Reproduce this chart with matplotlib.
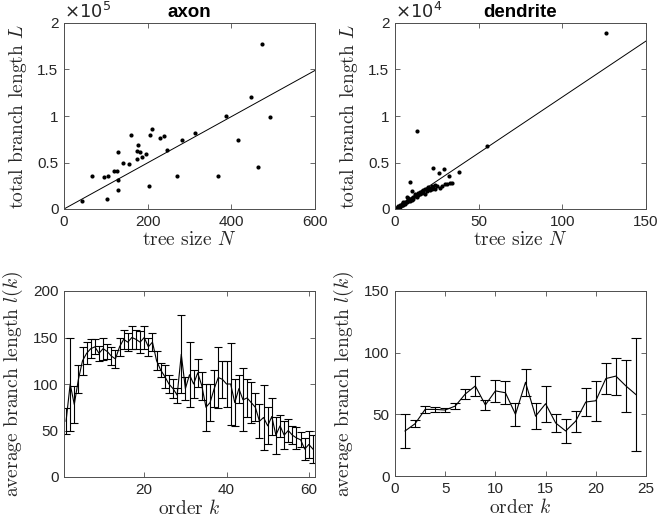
import matplotlib
matplotlib.use("Agg")
import matplotlib.pyplot as plt
from matplotlib.ticker import FuncFormatter
import numpy as np

plt.rcParams['font.family'] = ['Liberation Sans', 'DejaVu Sans']
plt.rcParams['mathtext.fontset'] = 'cm'

# ---------------- data ----------------
axon_N = [44, 66, 96, 102, 104, 120, 126, 128, 128, 130, 140, 155, 160, 175, 178,
          175, 182, 187, 196, 204, 206, 210, 229, 238, 247, 269, 283, 312, 369, 387,
          417, 446, 463, 474, 492]
axon_L = [8300, 35200, 34800, 10400, 35900, 40900, 41300, 31200, 20100, 61400, 49900,
          48100, 79700, 53500, 69300, 62100, 61400, 56000, 59200, 24400, 79400, 85500,
          76800, 79000, 63600, 35200, 74000, 81900, 35900, 99500, 74000, 119900, 44900,
          177400, 99100]
axon_slope = 248.3

dend_N = [1, 1, 2, 2, 2, 3, 3, 3, 4, 4, 4, 5, 5, 5, 6, 6, 6, 7, 7, 7, 8, 8, 8, 9, 9, 9,
          10, 10, 10, 11, 11, 12, 12, 13, 13, 14, 14, 15, 15, 16, 16, 17, 17, 18, 18, 19,
          20, 20, 21, 21, 22, 22, 23, 23, 24, 24, 25, 26, 27, 28, 29, 30, 31, 32, 33, 34,
          38, 55, 126]
dend_L = [150, 90, 260, 180, 320, 300, 410, 220, 380, 520, 450, 600, 430, 700, 620, 780,
          540, 900, 700, 1300, 850, 1000, 1200, 1050, 2870, 900, 1200, 1000, 1900, 1300,
          1100, 1400, 1600, 8400, 1300, 1500, 1700, 1600, 1800, 1900, 1700, 2000, 1800,
          1600, 2100, 1900, 2400, 2100, 2000, 2300, 2200, 2500, 4450, 2300, 2100, 2600,
          2500, 3900, 2300, 2500, 4250, 2700, 2650, 3500, 2800, 2750, 4000, 6790, 18920]
dend_slope = 120.4

axon_k = list(range(1, 62))
axon_mean = [60, 100, 78, 105, 125, 133, 138, 140, 133, 138, 135, 130, 127, 140, 148,
             145, 150, 148, 145, 150, 140, 145, 125, 115, 108, 100, 95, 88, 132, 95,
             110, 100, 112, 98, 75, 80, 95, 107, 105, 100, 100, 80, 95, 83, 85, 80, 75,
             60, 64, 55, 65, 45, 55, 45, 50, 45, 42, 40, 30, 35, 30]
axon_err = [14, 50, 20, 15, 15, 12, 10, 8, 8, 12, 8, 10, 10, 10, 10, 10, 12, 10, 12, 12,
            10, 10, 10, 8, 12, 10, 10, 8, 42, 12, 35, 15, 15, 15, 25, 20, 20, 33, 20, 25,
            44, 25, 15, 34, 20, 22, 15, 18, 35, 20, 20, 20, 12, 15, 12, 10, 12, 8, 12,
            15, 15]

dend_k = list(range(1, 25))
dend_mean = [36.5, 42.4, 54, 54, 53.5, 56.7, 66.5, 73, 57.6, 69, 67.5, 50, 76, 48.5,
             58.6, 43, 36.5, 44.5, 60, 61, 79, 81, 73, 66]
dend_err = [13.5, 3, 3, 2, 2, 2.5, 4, 8, 4, 9, 9.5, 9.5, 11, 10.5, 14.5, 7, 10, 8.5,
            11, 16, 12.5, 15, 21, 46]

# ---------------- figure ----------------
fig = plt.figure(figsize=(6.6, 5.25), dpi=100)
W, H = 660, 525

def add_axes(l, t, r, b):
    return fig.add_axes([l / W, (H - b) / H, (r - l) / W, (b - t) / H])

ax1 = add_axes(64, 23, 315, 209)
ax2 = add_axes(395, 23, 646, 209)
ax3 = add_axes(64, 291, 315, 477)
ax4 = add_axes(395, 291, 646, 476)

axcol = '#4d4d4d'
txtcol = '#262626'
lab_font = dict(family='cmr10', size=14, color=txtcol)

def style(ax):
    for s in ax.spines.values():
        s.set_color(axcol)
        s.set_linewidth(0.7)
    ax.tick_params(direction='in', length=3.5, width=0.6, colors=axcol,
                   labelsize=11, labelcolor=txtcol, top=True, right=True, pad=4)

fmt = FuncFormatter(lambda v, p: '%g' % v)

# --- axon scatter ---
ax1.plot(np.array(axon_N), np.array(axon_L) / 1e5, 'o', color='k', ms=3, mec='none')
xx = np.array([0, 600])
ax1.plot(xx, axon_slope * xx / 1e5, '-', color='k', lw=0.7)
ax1.set_xlim(0, 600)
ax1.set_ylim(0, 2)
ax1.set_xticks([0, 200, 400, 600])
ax1.set_yticks([0, 0.5, 1, 1.5, 2])
ax1.yaxis.set_major_formatter(fmt)
ax1.set_title('axon', fontsize=13.5, fontweight='bold', pad=4, color='k')
ax1.text(0.0, 1.008, r'$\times10^5$', transform=ax1.transAxes, fontsize=13,
         ha='left', va='bottom', color=txtcol, math_fontfamily='dejavusans')
ax1.set_xlabel(r'tree size $N$', fontdict=lab_font, labelpad=2)
ax1.set_ylabel(r'total branch length $L$', fontdict=lab_font, labelpad=6)

# --- dendrite scatter ---
ax2.plot(np.array(dend_N), np.array(dend_L) / 1e4, 'o', color='k', ms=3, mec='none')
xx = np.array([0, 150])
ax2.plot(xx, dend_slope * xx / 1e4, '-', color='k', lw=0.7)
ax2.set_xlim(0, 150)
ax2.set_ylim(0, 2)
ax2.set_xticks([0, 50, 100, 150])
ax2.set_yticks([0, 0.5, 1, 1.5, 2])
ax2.yaxis.set_major_formatter(fmt)
ax2.set_title('dendrite', fontsize=13.5, fontweight='bold', pad=4, color='k')
ax2.text(0.0, 1.008, r'$\times10^4$', transform=ax2.transAxes, fontsize=13,
         ha='left', va='bottom', color=txtcol, math_fontfamily='dejavusans')
ax2.set_xlabel(r'tree size $N$', fontdict=lab_font, labelpad=2)
ax2.set_ylabel(r'total branch length $L$', fontdict=lab_font, labelpad=6)

# --- axon errorbar ---
ax3.errorbar(axon_k, axon_mean, yerr=axon_err, color='k', lw=0.8, elinewidth=0.8,
             capsize=3.2, capthick=0.8)
ax3.set_xlim(0.5, 61.5)
ax3.set_ylim(0, 200)
ax3.set_xticks([20, 40, 60])
ax3.set_yticks([0, 50, 100, 150, 200])
ax3.set_xlabel(r'order $k$', fontdict=lab_font, labelpad=2)
ax3.set_ylabel(r'average branch length $l(k)$', fontdict=lab_font, labelpad=6)

# --- dendrite errorbar ---
ax4.errorbar(dend_k, dend_mean, yerr=dend_err, color='k', lw=0.8, elinewidth=0.8,
             capsize=3.5, capthick=0.8)
ax4.set_xlim(0, 25)
ax4.set_ylim(0, 150)
ax4.set_xticks([0, 5, 10, 15, 20, 25])
ax4.set_yticks([0, 50, 100, 150])
ax4.set_xlabel(r'order $k$', fontdict=lab_font, labelpad=2)
ax4.set_ylabel(r'average branch length $l(k)$', fontdict=lab_font, labelpad=6)

for ax in (ax1, ax2, ax3, ax4):
    style(ax)

fig.savefig('out.png', dpi=100)
